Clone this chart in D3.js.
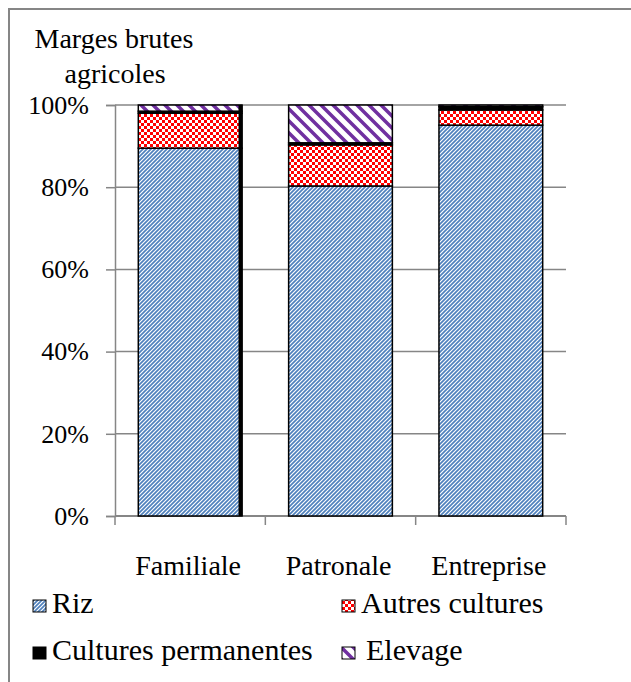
<!DOCTYPE html>
<html>
<head>
<meta charset="utf-8">
<script src="https://cdn.jsdelivr.net/npm/d3@7"></script>
<style>
  body { margin: 0; background: #fff; }
  svg text { font-family: "Liberation Serif", "DejaVu Serif", "Times New Roman", Times, serif !important; fill: #000; }
</style>
</head>
<body>
<div id="chart"></div>
<script>
const categories = ["Familiale", "Patronale", "Entreprise"];
const seriesNames = ["Riz", "Autres cultures", "Cultures permanentes", "Elevage"];
const riz = [89.5, 80.3, 95.1];
const autres = [8.5, 10.0, 3.7];
const permanentes = [0.5, 0.5, 0.8];
const elevage = [1.5, 9.2, 0.4];
const yTicks = [0, 20, 40, 60, 80, 100];

const width = 631, height = 682;
const margin = { top: 105, right: 65, bottom: 166, left: 115 };
const serif = "'Liberation Serif', 'DejaVu Serif', serif";

const rows = categories.map((c, i) => ({
  cat: c,
  "Riz": riz[i],
  "Autres cultures": autres[i],
  "Cultures permanentes": permanentes[i],
  "Elevage": elevage[i]
}));
const stacked = d3.stack().keys(seriesNames)(rows);

const svg = d3.select("#chart")
  .append("svg")
  .attr("width", width)
  .attr("height", height)
  .attr("font-family", serif);

// patterns
const defs = svg.append("defs");
const pRiz = defs.append("pattern").attr("id", "p-riz")
  .attr("patternUnits", "userSpaceOnUse").attr("width", 4).attr("height", 4);
pRiz.append("rect").attr("width", 4).attr("height", 4).attr("fill", "#fff");
pRiz.append("path").attr("d", "M-1,1 l2,-2 M0,4 l4,-4 M3,5 l2,-2")
  .attr("stroke", "#4f81bd").attr("stroke-width", 1.7);

const pAut = defs.append("pattern").attr("id", "p-autres")
  .attr("patternUnits", "userSpaceOnUse").attr("width", 6).attr("height", 6);
pAut.append("rect").attr("width", 6).attr("height", 6).attr("fill", "#fff");
pAut.append("rect").attr("width", 3).attr("height", 3).attr("fill", "#ff0000");
pAut.append("rect").attr("x", 3).attr("y", 3).attr("width", 3).attr("height", 3).attr("fill", "#ff0000");

const pEl = defs.append("pattern").attr("id", "p-elevage")
  .attr("patternUnits", "userSpaceOnUse").attr("width", 12).attr("height", 12);
pEl.append("rect").attr("width", 12).attr("height", 12).attr("fill", "#fff");
pEl.append("path").attr("d", "M0,0 L12,12 M-6,6 L6,18 M6,-6 L18,6")
  .attr("stroke", "#7030a0").attr("stroke-width", 3.5);

const fills = {
  "Riz": "url(#p-riz)",
  "Autres cultures": "url(#p-autres)",
  "Cultures permanentes": "#000",
  "Elevage": "url(#p-elevage)"
};

// outer frame
svg.append("rect")
  .attr("x", 9).attr("y", 9)
  .attr("width", 700).attr("height", 700)
  .attr("fill", "none").attr("stroke", "#868686").attr("stroke-width", 2);

const x = d3.scaleBand()
  .domain(categories)
  .range([margin.left, width - margin.right])
  .paddingInner(0.31)
  .paddingOuter(0.155);

const y = d3.scaleLinear()
  .domain([0, 100])
  .range([height - margin.bottom, margin.top]);

// gridlines
svg.append("g")
  .selectAll("line")
  .data(yTicks.filter(d => d > 0))
  .enter().append("line")
  .attr("x1", margin.left).attr("x2", width - margin.right)
  .attr("y1", d => y(d)).attr("y2", d => y(d))
  .attr("stroke", "#868686").attr("stroke-width", 1.5);

// y axis
const yAxis = svg.append("g")
  .attr("transform", `translate(${margin.left},0)`)
  .call(d3.axisLeft(y).tickValues(yTicks).tickFormat(d => d + "%").tickSize(9).tickPadding(17));
yAxis.attr("font-family", serif).attr("font-size", 26);
yAxis.selectAll("line, path").attr("stroke", "#868686").attr("stroke-width", 1.5);
yAxis.selectAll("text").attr("fill", "#000");

// x axis with ticks at category boundaries
const step = x.step();
const bounds = d3.range(categories.length + 1).map(i => margin.left + i * step);
svg.append("line")
  .attr("x1", margin.left).attr("x2", width - margin.right)
  .attr("y1", y(0)).attr("y2", y(0))
  .attr("stroke", "#868686").attr("stroke-width", 2);
svg.append("g").selectAll("line")
  .data(bounds)
  .enter().append("line")
  .attr("x1", d => d).attr("x2", d => d)
  .attr("y1", y(0)).attr("y2", y(0) + 9)
  .attr("stroke", "#868686").attr("stroke-width", 1.5);
svg.append("g").selectAll("text")
  .data(categories)
  .enter().append("text")
  .attr("x", d => x(d) + x.bandwidth() / 2 - 2)
  .attr("y", 575)
  .attr("text-anchor", "middle")
  .attr("font-size", 28)
  .text(d => d);

// bars
svg.append("g")
  .selectAll("g")
  .data(stacked)
  .enter().append("g")
  .attr("fill", d => fills[d.key])
  .selectAll("rect")
  .data(d => d)
  .enter().append("rect")
  .attr("x", d => x(d.data.cat))
  .attr("y", d => y(d[1]))
  .attr("width", x.bandwidth())
  .attr("height", d => y(d[0]) - y(d[1]))
  .attr("stroke", "#000")
  .attr("stroke-width", 1.5);

// heavy right edge on the first bar
svg.append("line")
  .attr("x1", x(categories[0]) + x.bandwidth() - 1.5)
  .attr("x2", x(categories[0]) + x.bandwidth() - 1.5)
  .attr("y1", y(0)).attr("y2", y(100))
  .attr("stroke", "#000").attr("stroke-width", 4);

// title
svg.append("text")
  .attr("x", 114).attr("y", 48)
  .attr("text-anchor", "middle").attr("font-size", 28)
  .text("Marges brutes");
svg.append("text")
  .attr("x", 115).attr("y", 83)
  .attr("text-anchor", "middle").attr("font-size", 28)
  .text("agricoles");

// legend
const legendPos = [
  { x: 33, y: 613 }, { x: 342, y: 613 },
  { x: 33, y: 660 }, { x: 342, y: 660 }
];
const legend = svg.append("g").selectAll("g")
  .data(seriesNames)
  .enter().append("g")
  .attr("transform", (d, i) => `translate(${legendPos[i].x},${legendPos[i].y})`);
legend.append("rect")
  .attr("x", 0).attr("y", -13)
  .attr("width", 13).attr("height", 12)
  .attr("fill", d => fills[d])
  .attr("stroke", "#000").attr("stroke-width", 1);
legend.append("text")
  .attr("x", (d, i) => i === 3 ? 24 : 19).attr("y", 0)
  .attr("font-size", 30)
  .text(d => d);
</script>
</body>
</html>
